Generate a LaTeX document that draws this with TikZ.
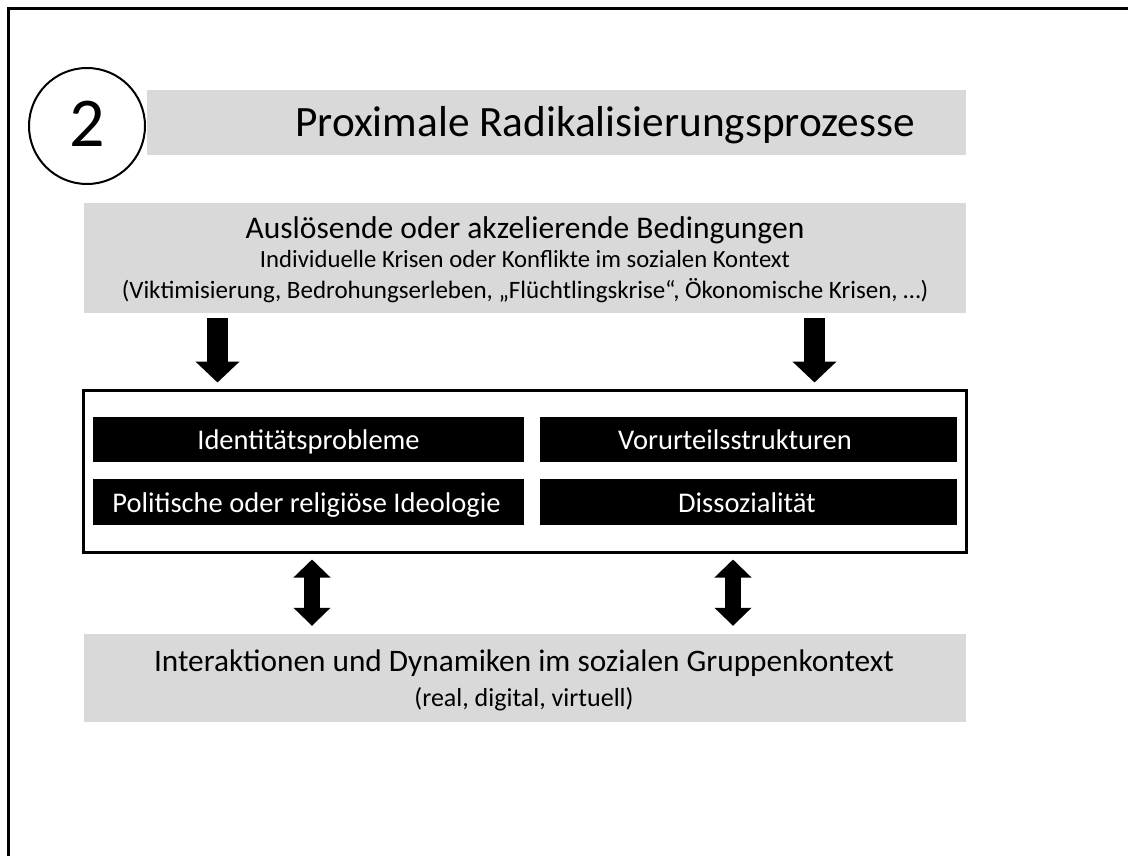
\documentclass[tikz,border=0pt]{standalone}
\usepackage{fontspec}
\setmainfont{Carlito}
\usetikzlibrary{arrows.meta}
\definecolor{boxgray}{HTML}{D9D9D9}
\tikzset{
  graybox/.style={fill=boxgray, draw=none, inner sep=0pt},
  blackbar/.style={fill=black, draw=none, inner sep=0pt},
  txt/.style={inner sep=0pt, anchor=base},
  bartxt/.style={txt, text=white, font=\fontsize{28.5}{34}\selectfont},
  fatdown/.style={line width=21pt, -{Triangle[width=43pt,length=21pt]}},
  fatboth/.style={line width=16pt, {Triangle[width=36pt,length=18pt]}-{Triangle[width=36pt,length=18pt]}}
}
\begin{document}
\begin{tikzpicture}[x=1pt,y=-1pt]
\useasboundingbox (0,0) rectangle (1128,856);
% frame (top and left edges)
\draw[line width=3pt] (8,856) -- (8,9) -- (1128,9);
% number circle
\node[circle, draw, line width=2pt, minimum size=116pt, inner sep=0pt] (num) at (87,126) {};
\node[txt, font=\fontsize{70}{80}\selectfont] (numtxt) at (87,147) {2};
% title
\node[graybox, minimum width=819pt, minimum height=65pt] (title) at (556.5,122.5) {};
\node[txt, font=\fontsize{43.3}{50}\selectfont] (titletxt) at (605,137) {Proximale Radikalisierungsprozesse};
% triggering conditions
\node[graybox, minimum width=882pt, minimum height=110pt] (cond) at (525,258) {};
\node[txt, font=\fontsize{31.5}{36}\selectfont] (cond1) at (525,238) {Auslösende oder akzelierende Bedingungen};
\node[txt, font=\fontsize{24.7}{29}\selectfont] (cond2) at (525,267) {Individuelle Krisen oder Konflikte im sozialen Kontext};
\node[txt, font=\fontsize{25}{30}\selectfont] (cond3) at (525,298) {(Viktimisierung, Bedrohungserleben, „Flüchtlingskrise“, Ökonomische Krisen, …)};
% main box
\node[draw, line width=3pt, fill=white, minimum width=883pt, minimum height=162pt, inner sep=0pt] (main) at (524.5,471) {};
\node[blackbar, minimum width=431pt, minimum height=45pt] (id) at (308.5,439.5) {};
\node[bartxt] (idtxt) at (308.5,449) {Identitätsprobleme};
\node[blackbar, minimum width=417pt, minimum height=45pt] (vor) at (748.5,439.5) {};
\node[bartxt] (vortxt) at (735,449) {Vorurteilsstrukturen};
\node[blackbar, minimum width=431pt, minimum height=46pt] (pol) at (308.5,502) {};
\node[bartxt] (poltxt) at (306.5,512) {Politische oder religiöse Ideologie};
\node[blackbar, minimum width=417pt, minimum height=46pt] (dis) at (748.5,502) {};
\node[bartxt] (distxt) at (747,512) {Dissozialität};
% group context
\node[graybox, minimum width=882pt, minimum height=88pt] (group) at (525,678) {};
\node[txt, font=\fontsize{31.3}{37}\selectfont] (group1) at (524,671) {Interaktionen und Dynamiken im sozialen Gruppenkontext};
\node[txt, font=\fontsize{26}{31}\selectfont] (group2) at (524,706) {(real, digital, virtuell)};
% arrow columns
\coordinate (c1) at (217.5,0);
\coordinate (c2) at (814.5,0);
\coordinate (c3) at (312,0);
\coordinate (c4) at (733,0);
\draw[fatdown, shorten <=5pt, shorten >=6pt] (cond.south -| c1) -- (main.north -| c1);
\draw[fatdown, shorten <=5pt, shorten >=6pt] (cond.south -| c2) -- (main.north -| c2);
\draw[fatboth, shorten <=6pt, shorten >=8pt] (main.south -| c3) -- (group.north -| c3);
\draw[fatboth, shorten <=6pt, shorten >=8pt] (main.south -| c4) -- (group.north -| c4);
\end{tikzpicture}
\end{document}
